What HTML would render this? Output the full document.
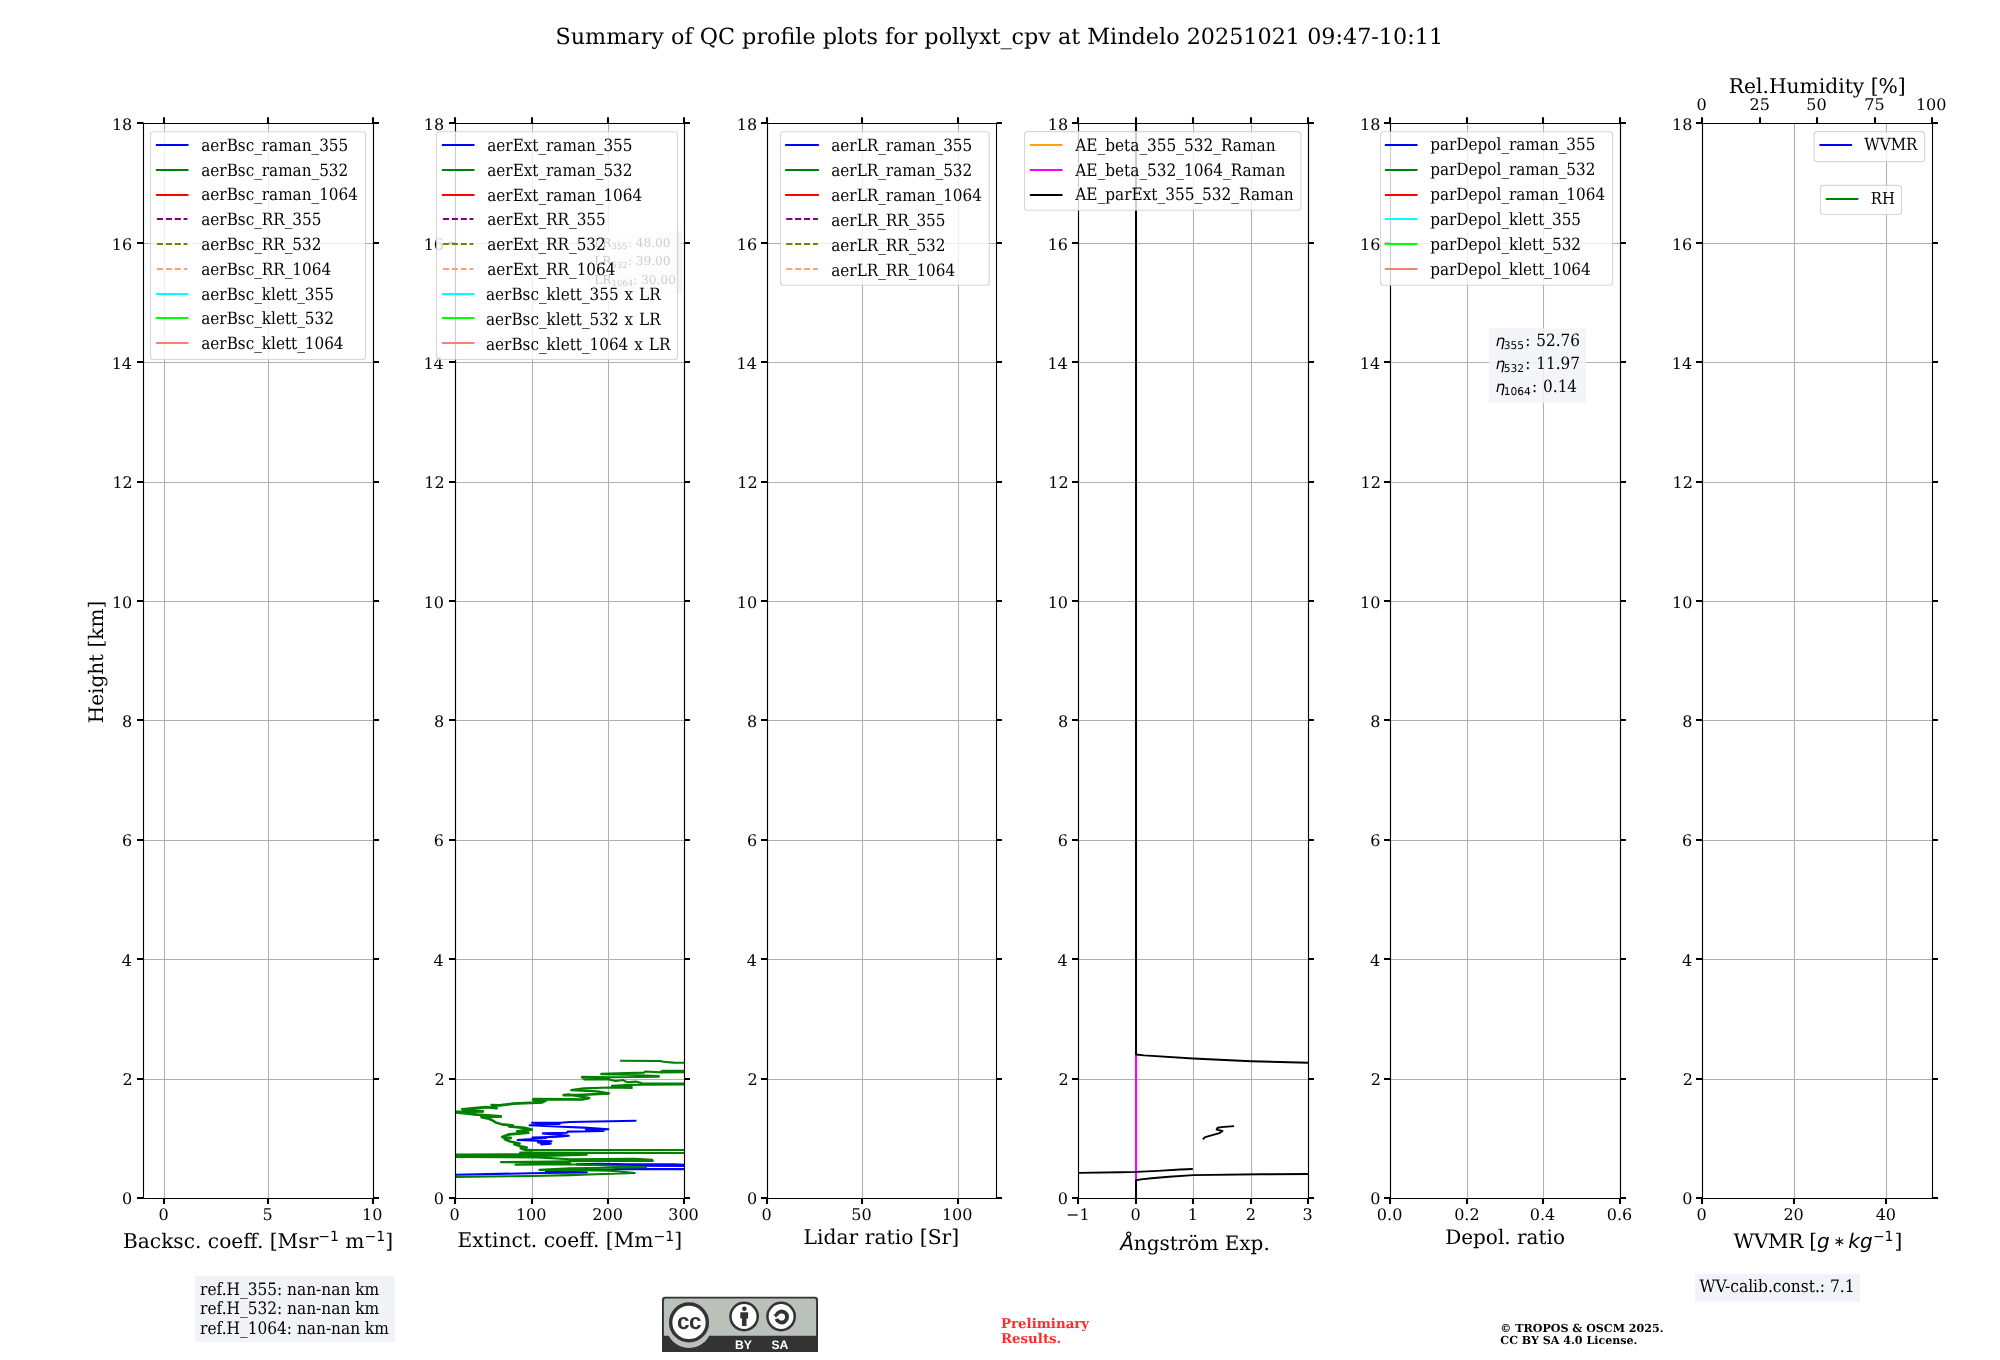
<!DOCTYPE html>
<html lang="en"><head><meta charset="utf-8"><title>QC profile summary</title>
<style>html,body{margin:0;padding:0;background:#fff}svg{display:block;will-change:transform;text-rendering:geometricPrecision}</style></head>
<body>
<svg width="2000" height="1360" viewBox="0 0 2000 1360" font-family="'DejaVu Serif','Liberation Serif',serif" fill="#000">
<rect width="2000" height="1360" fill="#fff"/>
<defs>
<clipPath id="c0"><rect x="143" y="123.15" width="230" height="1075.1"/></clipPath>
<clipPath id="c1"><rect x="455.3" y="123.15" width="229.1" height="1075.1"/></clipPath>
<clipPath id="c2"><rect x="766.8" y="123.15" width="229.2" height="1075.1"/></clipPath>
<clipPath id="c3"><rect x="1078.4" y="123.15" width="229.9" height="1075.1"/></clipPath>
<clipPath id="c4"><rect x="1390.2" y="123.15" width="229.8" height="1075.1"/></clipPath>
<clipPath id="c5"><rect x="1702.2" y="123.15" width="230.1" height="1075.1"/></clipPath>
</defs>
<text x="999.3" y="44.1" font-size="22.29" text-anchor="middle">Summary of QC profile plots for pollyxt_cpv at Mindelo 20251021 09:47-10:11</text>
<g id="ax0">
<path d="M164.5 123.15V1198.25M268.5 123.15V1198.25M373.5 123.15V1198.25M143 1198.5H373M143 1079.5H373M143 959.5H373M143 840.5H373M143 720.5H373M143 601.5H373M143 482.5H373M143 362.5H373M143 243.5H373M143 123.5H373" stroke="#b0b0b0" stroke-width="1.11" fill="none"/>
<path d="M164.0 1198.5v5.5M164.0 123.5v-6.3M268.0 1198.5v5.5M268.0 123.5v-6.3M373.0 1198.5v5.5M373.0 123.5v-6.3M143.5 1198.0h-6.5M373.5 1198.0h5.5M143.5 1079.0h-6.5M373.5 1079.0h5.5M143.5 959.0h-6.5M373.5 959.0h5.5M143.5 840.0h-6.5M373.5 840.0h5.5M143.5 720.0h-6.5M373.5 720.0h5.5M143.5 601.0h-6.5M373.5 601.0h5.5M143.5 482.0h-6.5M373.5 482.0h5.5M143.5 362.0h-6.5M373.5 362.0h5.5M143.5 243.0h-6.5M373.5 243.0h5.5M143.5 123.0h-6.5M373.5 123.0h5.5" stroke="#000" stroke-width="2.08" fill="none"/>
<path d="M143.5 1198.5V123.5H373.5V1198.5Z" stroke="#000" stroke-width="1.11" fill="none" stroke-linejoin="miter"/>
<g font-size="16">
<text x="163.6" y="1219.7" text-anchor="middle">0</text>
<text x="267.54" y="1219.7" text-anchor="middle">5</text>
<text x="372.15" y="1219.7" text-anchor="middle">10</text>
<text x="132.26" y="1204" text-anchor="end">0</text>
<text x="132.77" y="1085" text-anchor="end">2</text>
<text x="132" y="965.6" text-anchor="end">4</text>
<text x="132.21" y="846" text-anchor="end">6</text>
<text x="132.28" y="726.7" text-anchor="end">8</text>
<text x="132.26" y="608" text-anchor="end">10</text>
<text x="132.77" y="488" text-anchor="end">12</text>
<text x="132" y="369" text-anchor="end">14</text>
<text x="132.21" y="249.7" text-anchor="end">16</text>
<text x="132.28" y="130" text-anchor="end">18</text>
</g>
<text x="103.1" y="662" font-size="20" text-anchor="middle" transform="rotate(-90 103.1 662)">Height [km]</text>
<text x="258" y="1247.7" font-size="20.2" text-anchor="middle">Backsc. coeff. [Msr<tspan font-family="'DejaVu Sans','Liberation Sans',sans-serif" font-size="14" dy="-6.5">−1</tspan><tspan dy="6.5"> m</tspan><tspan font-family="'DejaVu Sans','Liberation Sans',sans-serif" font-size="14" dy="-6.5">−1</tspan><tspan dy="6.5">]</tspan></text>
<rect x="150.5" y="131.7" width="215.1" height="227.8" rx="3" ry="3" fill="#fff" fill-opacity="0.8" stroke="#ccc" stroke-opacity="0.8" stroke-width="1.11"/>
<line x1="156.9" y1="145" x2="187.46" y2="145" stroke="#0000ff" stroke-width="2.08" stroke-linecap="square"/>
<text x="201.26" y="150.75" font-size="16.95" font-family="'DejaVu Serif Condensed','DejaVu Serif','Liberation Serif',serif" font-stretch="condensed" word-spacing="1.1">aerBsc_raman_355</text>
<line x1="156.9" y1="170" x2="187.46" y2="170" stroke="#008000" stroke-width="2.08" stroke-linecap="square"/>
<text x="201.26" y="175.57" font-size="16.95" font-family="'DejaVu Serif Condensed','DejaVu Serif','Liberation Serif',serif" font-stretch="condensed" word-spacing="1.1">aerBsc_raman_532</text>
<line x1="156.9" y1="195" x2="187.46" y2="195" stroke="#ff0000" stroke-width="2.08" stroke-linecap="square"/>
<text x="201.26" y="200.39" font-size="16.95" font-family="'DejaVu Serif Condensed','DejaVu Serif','Liberation Serif',serif" font-stretch="condensed" word-spacing="1.1">aerBsc_raman_1064</text>
<line x1="156.9" y1="219" x2="187.46" y2="219" stroke="#800080" stroke-width="2.08" stroke-linecap="butt" stroke-dasharray="6.2 2.7"/>
<text x="201.26" y="225.21" font-size="16.95" font-family="'DejaVu Serif Condensed','DejaVu Serif','Liberation Serif',serif" font-stretch="condensed" word-spacing="1.1">aerBsc_RR_355</text>
<line x1="156.9" y1="244" x2="187.46" y2="244" stroke="#808000" stroke-width="2.08" stroke-linecap="butt" stroke-dasharray="6.2 2.7"/>
<text x="201.26" y="250.03" font-size="16.95" font-family="'DejaVu Serif Condensed','DejaVu Serif','Liberation Serif',serif" font-stretch="condensed" word-spacing="1.1">aerBsc_RR_532</text>
<line x1="156.9" y1="269" x2="187.46" y2="269" stroke="#ffa07a" stroke-width="2.08" stroke-linecap="butt" stroke-dasharray="6.2 2.7"/>
<text x="201.26" y="274.85" font-size="16.95" font-family="'DejaVu Serif Condensed','DejaVu Serif','Liberation Serif',serif" font-stretch="condensed" word-spacing="1.1">aerBsc_RR_1064</text>
<line x1="156.9" y1="294" x2="187.46" y2="294" stroke="#00ffff" stroke-width="2.08" stroke-linecap="square"/>
<text x="201.26" y="299.67" font-size="16.95" font-family="'DejaVu Serif Condensed','DejaVu Serif','Liberation Serif',serif" font-stretch="condensed" word-spacing="1.1">aerBsc_klett_355</text>
<line x1="156.9" y1="318" x2="187.46" y2="318" stroke="#00ff00" stroke-width="2.08" stroke-linecap="square"/>
<text x="201.26" y="324.49" font-size="16.95" font-family="'DejaVu Serif Condensed','DejaVu Serif','Liberation Serif',serif" font-stretch="condensed" word-spacing="1.1">aerBsc_klett_532</text>
<line x1="156.9" y1="343" x2="187.46" y2="343" stroke="#fa8072" stroke-width="2.08" stroke-linecap="square"/>
<text x="201.26" y="349.31" font-size="16.95" font-family="'DejaVu Serif Condensed','DejaVu Serif','Liberation Serif',serif" font-stretch="condensed" word-spacing="1.1">aerBsc_klett_1064</text>
</g>
<g id="ax1">
<path d="M455.5 123.15V1198.25M532.5 123.15V1198.25M608.5 123.15V1198.25M684.5 123.15V1198.25M455.3 1198.5H684.4M455.3 1079.5H684.4M455.3 959.5H684.4M455.3 840.5H684.4M455.3 720.5H684.4M455.3 601.5H684.4M455.3 482.5H684.4M455.3 362.5H684.4M455.3 243.5H684.4M455.3 123.5H684.4" stroke="#b0b0b0" stroke-width="1.11" fill="none"/>
<g clip-path="url(#c1)"><polyline points="440,1175 455.7,1174.7 543,1173 586.8,1172.4 546,1171.6 570,1169.6 609.6,1169.7 618,1169.1 700,1169.1 700,1166.2 630,1165.6 576.9,1164.4 598.8,1163.7 630,1164.3 673.8,1164.3 700,1165.2" fill="none" stroke="#0000ff" stroke-width="2.08" stroke-linejoin="round" stroke-linecap="butt" /></g>
<g clip-path="url(#c1)"><polyline points="540.4,1144.4 550.8,1143.6 538,1142.4 551.6,1141.2 517.6,1140 546,1138 532.4,1137.6 558,1136.8 568.8,1135.8 552.4,1134.4 542.8,1133.4 566.8,1132.8 567.6,1131.6 603.6,1131 586,1129.6 608.4,1129.2 583.6,1127.6 562,1126.8 529.6,1125.2 559.6,1124 532,1122.8 560.4,1122.8 570,1122 636.4,1120.8" fill="none" stroke="#0000ff" stroke-width="2.08" stroke-linejoin="round" stroke-linecap="butt" /></g>
<g clip-path="url(#c1)"><polyline points="440,1177 455.7,1176.9 532.2,1176 570,1175.1 588,1174.5 634.8,1173 609.6,1170.6 570,1170 539.4,1169.9 570,1168.2 646.2,1167.3 600,1165.2 570,1164.2 515.4,1164.7 570,1163.4 501,1162.1 570,1161.3 633.6,1160.7 652.8,1161 652.2,1159.8 635.4,1158.9 570,1159.2 537,1157.4 440,1157 440,1155.9 545,1156 586.8,1154.8 545,1155 440,1154.9 440,1154.6 520.2,1154.2 520.2,1152.6 700,1153 700,1150 532.4,1150 525.2,1149.6 520.4,1148 526.8,1147.2 520.4,1146 514,1144 519.6,1143.2 510,1141.2 504.4,1138.8 510.8,1137.6 502,1136.8 509.2,1134 528.4,1132.4 516.8,1131.2 523.6,1130 532,1129.2 524.4,1127.6 508.8,1126.1 513.2,1125.2 501.6,1124 495.6,1122.2 492,1119.8 487.2,1118 481.2,1116.8 501,1116.1 477,1114.4 455.7,1112 440,1111.8 483,1111.1 462,1109 486,1106.9 496.8,1107.8 491.4,1104.8 499.2,1105.1 513,1103.3 541.8,1102.1 546,1100 535.2,1101.2 532.8,1099.4 534,1098.8 570,1099 582,1099.2 589.2,1097.7 570,1094.4 563.4,1094.9 577.2,1094.7 609,1093.2 597.6,1091.4 571.2,1090.1 583.8,1088.4 609,1087.5 631.8,1087.9 612,1086.9 631.8,1086 612,1085.7 631.2,1084.9 642,1084.8 700,1084.5 700,1083.6 642,1083.3 636,1081.6 627,1082.2 622.8,1080 615.6,1081 609,1079.5 584.1,1079.4 609,1078.2 582,1077.6 582,1076.7 609,1077.3 658.8,1076.7 658.8,1076.1 626.4,1074.7 601.2,1074.3 601.2,1073.8 644,1072.6 645,1071.5 661,1072.4 700,1072.2 661,1071.6 662.4,1070.9 700,1070.6" fill="none" stroke="#008000" stroke-width="2.08" stroke-linejoin="round" stroke-linecap="butt" /></g>
<g clip-path="url(#c1)"><polyline points="700,1062.9 684.6,1062.8 673.2,1062.6 663.6,1061.7 660,1061 620.1,1060.8" fill="none" stroke="#008000" stroke-width="2.08" stroke-linejoin="round" stroke-linecap="butt" /></g>
<g clip-path="url(#c1)"><polyline points="532.7,1150.75 525.5,1150.35 520.7,1148.75 527.1,1147.95 520.7,1146.75 514.3,1144.75 519.9,1143.95 510.3,1141.95 504.7,1139.55 511.1,1138.35 502.3,1137.55 509.5,1134.75 528.7,1133.15 517.1,1131.95 523.9,1130.75 532.3,1129.95 524.7,1128.35 509.1,1126.85 513.5,1125.95 501.9,1124.75 495.9,1122.95 492.3,1120.55 487.5,1118.75 481.5,1117.55 501.3,1116.85 477.3,1115.15 456,1112.75 440.3,1112.55 483.3,1111.85 462.3,1109.75 486.3,1107.65 497.1,1108.55 491.7,1105.55 499.5,1105.85 513.3,1104.05 542.1,1102.85 546.3,1100.75 535.5,1101.95 533.1,1100.15 534.3,1099.55 570.3,1099.75 582.3,1099.95 589.5,1098.45 570.3,1095.15 563.7,1095.65 577.5,1095.45 609.3,1093.95" fill="none" stroke="#008000" stroke-width="1.8" stroke-linejoin="round" stroke-linecap="butt" /></g>
<path d="M455.0 1198.5v5.5M455.0 123.5v-6.3M532.0 1198.5v5.5M532.0 123.5v-6.3M608.0 1198.5v5.5M608.0 123.5v-6.3M684.0 1198.5v5.5M684.0 123.5v-6.3M455.5 1198.0h-6.5M684.5 1198.0h5.5M455.5 1079.0h-6.5M684.5 1079.0h5.5M455.5 959.0h-6.5M684.5 959.0h5.5M455.5 840.0h-6.5M684.5 840.0h5.5M455.5 720.0h-6.5M684.5 720.0h5.5M455.5 601.0h-6.5M684.5 601.0h5.5M455.5 482.0h-6.5M684.5 482.0h5.5M455.5 362.0h-6.5M684.5 362.0h5.5M455.5 243.0h-6.5M684.5 243.0h5.5M455.5 123.0h-6.5M684.5 123.0h5.5" stroke="#000" stroke-width="2.08" fill="none"/>
<path d="M455.5 1198.5V123.5H684.5V1198.5Z" stroke="#000" stroke-width="1.11" fill="none" stroke-linejoin="miter"/>
<g font-size="16">
<text x="454.6" y="1219.7" text-anchor="middle">0</text>
<text x="531.15" y="1219.7" text-anchor="middle">100</text>
<text x="607.59" y="1219.7" text-anchor="middle">200</text>
<text x="683.52" y="1219.7" text-anchor="middle">300</text>
<text x="444.06" y="1204" text-anchor="end">0</text>
<text x="444.57" y="1085" text-anchor="end">2</text>
<text x="443.8" y="965.6" text-anchor="end">4</text>
<text x="444.01" y="846" text-anchor="end">6</text>
<text x="444.08" y="726.7" text-anchor="end">8</text>
<text x="444.06" y="608" text-anchor="end">10</text>
<text x="444.57" y="488" text-anchor="end">12</text>
<text x="443.8" y="369" text-anchor="end">14</text>
<text x="444.01" y="249.7" text-anchor="end">16</text>
<text x="444.08" y="130" text-anchor="end">18</text>
</g>
<text x="569.85" y="1247.2" font-size="20.24" text-anchor="middle">Extinct. coeff. [Mm<tspan font-family="'DejaVu Sans','Liberation Sans',sans-serif" font-size="14" dy="-6.5">−1</tspan><tspan dy="6.5">]</tspan></text>
<rect x="587.5" y="231.2" width="94.3" height="62.6" fill="#f2f3f8"/>
<text x="594.2" y="246.8" font-size="12.2">LR<tspan font-family="'DejaVu Sans','Liberation Sans',sans-serif" font-size="8.5" dy="2.6">355</tspan><tspan dy="-2.6">: 48.00</tspan></text>
<text x="594.2" y="264.9" font-size="12.2">LR<tspan font-family="'DejaVu Sans','Liberation Sans',sans-serif" font-size="8.5" dy="2.6">532</tspan><tspan dy="-2.6">: 39.00</tspan></text>
<text x="594.2" y="283.8" font-size="12.2">LR<tspan font-family="'DejaVu Sans','Liberation Sans',sans-serif" font-size="8.5" dy="2.6">1064</tspan><tspan dy="-2.6">: 30.00</tspan></text>
<rect x="436.5" y="131.7" width="240.9" height="227.8" rx="3" ry="3" fill="#fff" fill-opacity="0.8" stroke="#ccc" stroke-opacity="0.8" stroke-width="1.11"/>
<line x1="442.9" y1="145" x2="473.46" y2="145" stroke="#0000ff" stroke-width="2.08" stroke-linecap="square"/>
<text x="487.26" y="150.75" font-size="16.95" font-family="'DejaVu Serif Condensed','DejaVu Serif','Liberation Serif',serif" font-stretch="condensed" word-spacing="1.1">aerExt_raman_355</text>
<line x1="442.9" y1="170" x2="473.46" y2="170" stroke="#008000" stroke-width="2.08" stroke-linecap="square"/>
<text x="487.26" y="175.65" font-size="16.95" font-family="'DejaVu Serif Condensed','DejaVu Serif','Liberation Serif',serif" font-stretch="condensed" word-spacing="1.1">aerExt_raman_532</text>
<line x1="442.9" y1="195" x2="473.46" y2="195" stroke="#ff0000" stroke-width="2.08" stroke-linecap="square"/>
<text x="487.26" y="200.55" font-size="16.95" font-family="'DejaVu Serif Condensed','DejaVu Serif','Liberation Serif',serif" font-stretch="condensed" word-spacing="1.1">aerExt_raman_1064</text>
<line x1="442.9" y1="219" x2="473.46" y2="219" stroke="#800080" stroke-width="2.08" stroke-linecap="butt" stroke-dasharray="6.2 2.7"/>
<text x="487.26" y="225.45" font-size="16.95" font-family="'DejaVu Serif Condensed','DejaVu Serif','Liberation Serif',serif" font-stretch="condensed" word-spacing="1.1">aerExt_RR_355</text>
<line x1="442.9" y1="244" x2="473.46" y2="244" stroke="#808000" stroke-width="2.08" stroke-linecap="butt" stroke-dasharray="6.2 2.7"/>
<text x="487.26" y="250.35" font-size="16.95" font-family="'DejaVu Serif Condensed','DejaVu Serif','Liberation Serif',serif" font-stretch="condensed" word-spacing="1.1">aerExt_RR_532</text>
<line x1="442.9" y1="269" x2="473.46" y2="269" stroke="#ffa07a" stroke-width="2.08" stroke-linecap="butt" stroke-dasharray="6.2 2.7"/>
<text x="487.26" y="275.25" font-size="16.95" font-family="'DejaVu Serif Condensed','DejaVu Serif','Liberation Serif',serif" font-stretch="condensed" word-spacing="1.1">aerExt_RR_1064</text>
<line x1="442.9" y1="294" x2="473.46" y2="294" stroke="#00ffff" stroke-width="2.08" stroke-linecap="square"/>
<text x="486.01" y="300.15" font-size="16.95" font-family="'DejaVu Serif Condensed','DejaVu Serif','Liberation Serif',serif" font-stretch="condensed" word-spacing="1.1">aerBsc_klett_355 x LR</text>
<line x1="442.9" y1="318" x2="473.46" y2="318" stroke="#00ff00" stroke-width="2.08" stroke-linecap="square"/>
<text x="486.01" y="325.05" font-size="16.95" font-family="'DejaVu Serif Condensed','DejaVu Serif','Liberation Serif',serif" font-stretch="condensed" word-spacing="1.1">aerBsc_klett_532 x LR</text>
<line x1="442.9" y1="343" x2="473.46" y2="343" stroke="#fa8072" stroke-width="2.08" stroke-linecap="square"/>
<text x="486.01" y="349.95" font-size="16.95" font-family="'DejaVu Serif Condensed','DejaVu Serif','Liberation Serif',serif" font-stretch="condensed" word-spacing="1.1">aerBsc_klett_1064 x LR</text>
</g>
<g id="ax2">
<path d="M767.5 123.15V1198.25M862.5 123.15V1198.25M958.5 123.15V1198.25M766.8 1198.5H996M766.8 1079.5H996M766.8 959.5H996M766.8 840.5H996M766.8 720.5H996M766.8 601.5H996M766.8 482.5H996M766.8 362.5H996M766.8 243.5H996M766.8 123.5H996" stroke="#b0b0b0" stroke-width="1.11" fill="none"/>
<path d="M767.0 1198.5v5.5M767.0 123.5v-6.3M862.0 1198.5v5.5M862.0 123.5v-6.3M958.0 1198.5v5.5M958.0 123.5v-6.3M767.5 1198.0h-6.5M996.5 1198.0h5.5M767.5 1079.0h-6.5M996.5 1079.0h5.5M767.5 959.0h-6.5M996.5 959.0h5.5M767.5 840.0h-6.5M996.5 840.0h5.5M767.5 720.0h-6.5M996.5 720.0h5.5M767.5 601.0h-6.5M996.5 601.0h5.5M767.5 482.0h-6.5M996.5 482.0h5.5M767.5 362.0h-6.5M996.5 362.0h5.5M767.5 243.0h-6.5M996.5 243.0h5.5M767.5 123.0h-6.5M996.5 123.0h5.5" stroke="#000" stroke-width="2.08" fill="none"/>
<path d="M767.5 1198.5V123.5H996.5V1198.5Z" stroke="#000" stroke-width="1.11" fill="none" stroke-linejoin="miter"/>
<g font-size="16">
<text x="766.6" y="1219.7" text-anchor="middle">0</text>
<text x="861.45" y="1219.7" text-anchor="middle">50</text>
<text x="957.15" y="1219.7" text-anchor="middle">100</text>
<text x="757.16" y="1204" text-anchor="end">0</text>
<text x="757.67" y="1085" text-anchor="end">2</text>
<text x="756.9" y="965.6" text-anchor="end">4</text>
<text x="757.11" y="846" text-anchor="end">6</text>
<text x="757.18" y="726.7" text-anchor="end">8</text>
<text x="757.16" y="608" text-anchor="end">10</text>
<text x="757.67" y="488" text-anchor="end">12</text>
<text x="756.9" y="369" text-anchor="end">14</text>
<text x="757.11" y="249.7" text-anchor="end">16</text>
<text x="757.18" y="130" text-anchor="end">18</text>
</g>
<text x="881.4" y="1243.8" font-size="20.3" text-anchor="middle">Lidar ratio [Sr]</text>
<rect x="780.5" y="131.7" width="208.8" height="153.6" rx="3" ry="3" fill="#fff" fill-opacity="0.8" stroke="#ccc" stroke-opacity="0.8" stroke-width="1.11"/>
<line x1="786.2" y1="145" x2="817.9" y2="145" stroke="#0000ff" stroke-width="2.08" stroke-linecap="square"/>
<text x="831.26" y="150.75" font-size="16.95" font-family="'DejaVu Serif Condensed','DejaVu Serif','Liberation Serif',serif" font-stretch="condensed" word-spacing="1.1">aerLR_raman_355</text>
<line x1="786.2" y1="170" x2="817.9" y2="170" stroke="#008000" stroke-width="2.08" stroke-linecap="square"/>
<text x="831.26" y="175.71" font-size="16.95" font-family="'DejaVu Serif Condensed','DejaVu Serif','Liberation Serif',serif" font-stretch="condensed" word-spacing="1.1">aerLR_raman_532</text>
<line x1="786.2" y1="195" x2="817.9" y2="195" stroke="#ff0000" stroke-width="2.08" stroke-linecap="square"/>
<text x="831.26" y="200.67" font-size="16.95" font-family="'DejaVu Serif Condensed','DejaVu Serif','Liberation Serif',serif" font-stretch="condensed" word-spacing="1.1">aerLR_raman_1064</text>
<line x1="786.2" y1="219" x2="817.9" y2="219" stroke="#800080" stroke-width="2.08" stroke-linecap="butt" stroke-dasharray="6.2 2.7"/>
<text x="831.26" y="225.63" font-size="16.95" font-family="'DejaVu Serif Condensed','DejaVu Serif','Liberation Serif',serif" font-stretch="condensed" word-spacing="1.1">aerLR_RR_355</text>
<line x1="786.2" y1="244" x2="817.9" y2="244" stroke="#808000" stroke-width="2.08" stroke-linecap="butt" stroke-dasharray="6.2 2.7"/>
<text x="831.26" y="250.59" font-size="16.95" font-family="'DejaVu Serif Condensed','DejaVu Serif','Liberation Serif',serif" font-stretch="condensed" word-spacing="1.1">aerLR_RR_532</text>
<line x1="786.2" y1="269" x2="817.9" y2="269" stroke="#ffa07a" stroke-width="2.08" stroke-linecap="butt" stroke-dasharray="6.2 2.7"/>
<text x="831.26" y="275.55" font-size="16.95" font-family="'DejaVu Serif Condensed','DejaVu Serif','Liberation Serif',serif" font-stretch="condensed" word-spacing="1.1">aerLR_RR_1064</text>
</g>
<g id="ax3">
<path d="M1078.5 123.15V1198.25M1136.5 123.15V1198.25M1193.5 123.15V1198.25M1251.5 123.15V1198.25M1308.5 123.15V1198.25M1078.4 1198.5H1308.3M1078.4 1079.5H1308.3M1078.4 959.5H1308.3M1078.4 840.5H1308.3M1078.4 720.5H1308.3M1078.4 601.5H1308.3M1078.4 482.5H1308.3M1078.4 362.5H1308.3M1078.4 243.5H1308.3M1078.4 123.5H1308.3" stroke="#b0b0b0" stroke-width="1.11" fill="none"/>
<g clip-path="url(#c3)"><polyline points="1136,1198.25 1136,123.15" fill="none" stroke="#ff00ff" stroke-width="2.08" stroke-linejoin="round" stroke-linecap="butt" /></g>
<g clip-path="url(#c3)"><polyline points="1136,123.15 1136,1054.5 1144.1,1055.4 1193.1,1058.5 1251,1061.2 1308.2,1062.7 1330,1063.2" fill="none" stroke="#000" stroke-width="1.9" stroke-linejoin="round" stroke-linecap="butt" /></g>
<g clip-path="url(#c3)"><polyline points="1330,1173.9 1308.2,1174 1260,1174.3 1193.3,1175.1 1169,1176.8 1151.5,1178.2 1141,1179.4 1136,1180.3 1136,1198.25" fill="none" stroke="#000" stroke-width="1.9" stroke-linejoin="round" stroke-linecap="butt" /></g>
<g clip-path="url(#c3)"><polyline points="1060,1173.2 1078.6,1172.9 1120,1172.2 1136,1171.9 1157.8,1170.9 1180.2,1169.5 1192.8,1169" fill="none" stroke="#000" stroke-width="1.9" stroke-linejoin="round" stroke-linecap="butt" /></g>
<g clip-path="url(#c3)"><polyline points="1202.9,1139.3 1204.7,1137.3 1209.6,1135.9 1219.4,1133.1 1222.5,1131 1216.6,1129.6 1217.6,1127.8 1221.5,1127.1 1234.1,1126.1" fill="none" stroke="#000" stroke-width="1.9" stroke-linejoin="round" stroke-linecap="butt" /></g>
<path d="M1078.0 1198.5v5.5M1078.0 123.5v-6.3M1136.0 1198.5v5.5M1136.0 123.5v-6.3M1193.0 1198.5v5.5M1193.0 123.5v-6.3M1251.0 1198.5v5.5M1251.0 123.5v-6.3M1308.0 1198.5v5.5M1308.0 123.5v-6.3M1078.5 1198.0h-6.5M1308.5 1198.0h5.5M1078.5 1079.0h-6.5M1308.5 1079.0h5.5M1078.5 959.0h-6.5M1308.5 959.0h5.5M1078.5 840.0h-6.5M1308.5 840.0h5.5M1078.5 720.0h-6.5M1308.5 720.0h5.5M1078.5 601.0h-6.5M1308.5 601.0h5.5M1078.5 482.0h-6.5M1308.5 482.0h5.5M1078.5 362.0h-6.5M1308.5 362.0h5.5M1078.5 243.0h-6.5M1308.5 243.0h5.5M1078.5 123.0h-6.5M1308.5 123.0h5.5" stroke="#000" stroke-width="2.08" fill="none"/>
<path d="M1078.5 1198.5V123.5H1308.5V1198.5Z" stroke="#000" stroke-width="1.11" fill="none" stroke-linejoin="miter"/>
<g font-size="16">
<text x="1077.89" y="1219.7" text-anchor="middle">−1</text>
<text x="1135.6" y="1219.7" text-anchor="middle">0</text>
<text x="1192.76" y="1219.7" text-anchor="middle">1</text>
<text x="1250.84" y="1219.7" text-anchor="middle">2</text>
<text x="1307.58" y="1219.7" text-anchor="middle">3</text>
<text x="1068.06" y="1204" text-anchor="end">0</text>
<text x="1068.57" y="1085" text-anchor="end">2</text>
<text x="1067.8" y="965.6" text-anchor="end">4</text>
<text x="1068.01" y="846" text-anchor="end">6</text>
<text x="1068.08" y="726.7" text-anchor="end">8</text>
<text x="1068.06" y="608" text-anchor="end">10</text>
<text x="1068.57" y="488" text-anchor="end">12</text>
<text x="1067.8" y="369" text-anchor="end">14</text>
<text x="1068.01" y="249.7" text-anchor="end">16</text>
<text x="1068.08" y="130" text-anchor="end">18</text>
</g>
<text x="1194.95" y="1249.7" font-size="20" text-anchor="middle"><tspan font-family="'DejaVu Sans','Liberation Sans',sans-serif" font-style="italic">Å</tspan>ngström Exp.</text>
<rect x="1024.5" y="131.6" width="276.5" height="78.6" rx="3" ry="3" fill="#fff" fill-opacity="0.8" stroke="#ccc" stroke-opacity="0.8" stroke-width="1.11"/>
<line x1="1030.9" y1="145" x2="1061.46" y2="145" stroke="#ffa500" stroke-width="2.08" stroke-linecap="square"/>
<text x="1075.26" y="150.75" font-size="17.06" font-family="'DejaVu Serif Condensed','DejaVu Serif','Liberation Serif',serif" font-stretch="condensed" word-spacing="1.1">AE_beta_355_532_Raman</text>
<line x1="1030.9" y1="170" x2="1061.46" y2="170" stroke="#ff00ff" stroke-width="2.08" stroke-linecap="square"/>
<text x="1075.26" y="175.57" font-size="17.06" font-family="'DejaVu Serif Condensed','DejaVu Serif','Liberation Serif',serif" font-stretch="condensed" word-spacing="1.1">AE_beta_532_1064_Raman</text>
<line x1="1030.9" y1="195" x2="1061.46" y2="195" stroke="#000" stroke-width="2.08" stroke-linecap="square"/>
<text x="1075.26" y="200.39" font-size="17.06" font-family="'DejaVu Serif Condensed','DejaVu Serif','Liberation Serif',serif" font-stretch="condensed" word-spacing="1.1">AE_parExt_355_532_Raman</text>
</g>
<g id="ax4">
<path d="M1390.5 123.15V1198.25M1467.5 123.15V1198.25M1543.5 123.15V1198.25M1620.5 123.15V1198.25M1390.2 1198.5H1620M1390.2 1079.5H1620M1390.2 959.5H1620M1390.2 840.5H1620M1390.2 720.5H1620M1390.2 601.5H1620M1390.2 482.5H1620M1390.2 362.5H1620M1390.2 243.5H1620M1390.2 123.5H1620" stroke="#b0b0b0" stroke-width="1.11" fill="none"/>
<path d="M1390.0 1198.5v5.5M1390.0 123.5v-6.3M1467.0 1198.5v5.5M1467.0 123.5v-6.3M1543.0 1198.5v5.5M1543.0 123.5v-6.3M1620.0 1198.5v5.5M1620.0 123.5v-6.3M1390.5 1198.0h-6.5M1620.5 1198.0h5.5M1390.5 1079.0h-6.5M1620.5 1079.0h5.5M1390.5 959.0h-6.5M1620.5 959.0h5.5M1390.5 840.0h-6.5M1620.5 840.0h5.5M1390.5 720.0h-6.5M1620.5 720.0h5.5M1390.5 601.0h-6.5M1620.5 601.0h5.5M1390.5 482.0h-6.5M1620.5 482.0h5.5M1390.5 362.0h-6.5M1620.5 362.0h5.5M1390.5 243.0h-6.5M1620.5 243.0h5.5M1390.5 123.0h-6.5M1620.5 123.0h5.5" stroke="#000" stroke-width="2.08" fill="none"/>
<path d="M1390.5 1198.5V123.5H1620.5V1198.5Z" stroke="#000" stroke-width="1.11" fill="none" stroke-linejoin="miter"/>
<g font-size="16">
<text x="1389.6" y="1219.7" text-anchor="middle">0.0</text>
<text x="1466.86" y="1219.7" text-anchor="middle">0.2</text>
<text x="1542.48" y="1219.7" text-anchor="middle">0.4</text>
<text x="1619.58" y="1219.7" text-anchor="middle">0.6</text>
<text x="1380.46" y="1204" text-anchor="end">0</text>
<text x="1380.97" y="1085" text-anchor="end">2</text>
<text x="1380.2" y="965.6" text-anchor="end">4</text>
<text x="1380.41" y="846" text-anchor="end">6</text>
<text x="1380.48" y="726.7" text-anchor="end">8</text>
<text x="1380.46" y="608" text-anchor="end">10</text>
<text x="1380.97" y="488" text-anchor="end">12</text>
<text x="1380.2" y="369" text-anchor="end">14</text>
<text x="1380.41" y="249.7" text-anchor="end">16</text>
<text x="1380.48" y="130" text-anchor="end">18</text>
</g>
<text x="1505.1" y="1243.6" font-size="20" text-anchor="middle">Depol. ratio</text>
<rect x="1489" y="328.2" width="97.1" height="74.7" fill="#f2f3f8" fill-opacity="0.85"/>
<text x="1495.6" y="345.6" font-size="15.28"><tspan font-family="'DejaVu Sans','Liberation Sans',sans-serif" font-style="italic">η</tspan><tspan font-family="'DejaVu Sans','Liberation Sans',sans-serif" font-size="10.7" dy="3.2" dx="-1.6">355</tspan><tspan dy="-3.2" dx="1.15" word-spacing="1.1" font-family="'DejaVu Serif Condensed','DejaVu Serif','Liberation Serif',serif" font-stretch="condensed" font-size="16.95">: 52.76</tspan></text>
<text x="1495.6" y="369.2" font-size="15.28"><tspan font-family="'DejaVu Sans','Liberation Sans',sans-serif" font-style="italic">η</tspan><tspan font-family="'DejaVu Sans','Liberation Sans',sans-serif" font-size="10.7" dy="3.2" dx="-1.6">532</tspan><tspan dy="-3.2" dx="1.15" word-spacing="1.1" font-family="'DejaVu Serif Condensed','DejaVu Serif','Liberation Serif',serif" font-stretch="condensed" font-size="16.95">: 11.97</tspan></text>
<text x="1495.6" y="392.1" font-size="15.28"><tspan font-family="'DejaVu Sans','Liberation Sans',sans-serif" font-style="italic">η</tspan><tspan font-family="'DejaVu Sans','Liberation Sans',sans-serif" font-size="10.7" dy="3.2" dx="-1.6">1064</tspan><tspan dy="-3.2" dx="1.15" word-spacing="1.1" font-family="'DejaVu Serif Condensed','DejaVu Serif','Liberation Serif',serif" font-stretch="condensed" font-size="16.95">: 0.14</tspan></text>
<rect x="1380.5" y="131.7" width="232.1" height="153.6" rx="3" ry="3" fill="#fff" fill-opacity="0.8" stroke="#ccc" stroke-opacity="0.8" stroke-width="1.11"/>
<line x1="1385.9" y1="145" x2="1416.46" y2="145" stroke="#0000ff" stroke-width="2.08" stroke-linecap="square"/>
<text x="1430.26" y="150.15" font-size="16.95" font-family="'DejaVu Serif Condensed','DejaVu Serif','Liberation Serif',serif" font-stretch="condensed" word-spacing="1.1">parDepol_raman_355</text>
<line x1="1385.9" y1="170" x2="1416.46" y2="170" stroke="#008000" stroke-width="2.08" stroke-linecap="square"/>
<text x="1430.26" y="175.11" font-size="16.95" font-family="'DejaVu Serif Condensed','DejaVu Serif','Liberation Serif',serif" font-stretch="condensed" word-spacing="1.1">parDepol_raman_532</text>
<line x1="1385.9" y1="195" x2="1416.46" y2="195" stroke="#ff0000" stroke-width="2.08" stroke-linecap="square"/>
<text x="1430.26" y="200.07" font-size="16.95" font-family="'DejaVu Serif Condensed','DejaVu Serif','Liberation Serif',serif" font-stretch="condensed" word-spacing="1.1">parDepol_raman_1064</text>
<line x1="1385.9" y1="219" x2="1416.46" y2="219" stroke="#00ffff" stroke-width="2.08" stroke-linecap="square"/>
<text x="1430.26" y="225.03" font-size="16.95" font-family="'DejaVu Serif Condensed','DejaVu Serif','Liberation Serif',serif" font-stretch="condensed" word-spacing="1.1">parDepol_klett_355</text>
<line x1="1385.9" y1="244" x2="1416.46" y2="244" stroke="#00ff00" stroke-width="2.08" stroke-linecap="square"/>
<text x="1430.26" y="249.99" font-size="16.95" font-family="'DejaVu Serif Condensed','DejaVu Serif','Liberation Serif',serif" font-stretch="condensed" word-spacing="1.1">parDepol_klett_532</text>
<line x1="1385.9" y1="269" x2="1416.46" y2="269" stroke="#fa8072" stroke-width="2.08" stroke-linecap="square"/>
<text x="1430.26" y="274.95" font-size="16.95" font-family="'DejaVu Serif Condensed','DejaVu Serif','Liberation Serif',serif" font-stretch="condensed" word-spacing="1.1">parDepol_klett_1064</text>
</g>
<g id="ax5">
<path d="M1702.5 123.15V1198.25M1794.5 123.15V1198.25M1886.5 123.15V1198.25M1702.2 1198.5H1932.3M1702.2 1079.5H1932.3M1702.2 959.5H1932.3M1702.2 840.5H1932.3M1702.2 720.5H1932.3M1702.2 601.5H1932.3M1702.2 482.5H1932.3M1702.2 362.5H1932.3M1702.2 243.5H1932.3M1702.2 123.5H1932.3" stroke="#b0b0b0" stroke-width="1.11" fill="none"/>
<path d="M1702.0 1198.5v5.5M1794.0 1198.5v5.5M1886.0 1198.5v5.5M1702.0 123.5v-6.3M1760.0 123.5v-6.3M1817.0 123.5v-6.3M1875.0 123.5v-6.3M1932.0 123.5v-6.3M1702.5 1198.0h-6.5M1932.5 1198.0h5.5M1702.5 1079.0h-6.5M1932.5 1079.0h5.5M1702.5 959.0h-6.5M1932.5 959.0h5.5M1702.5 840.0h-6.5M1932.5 840.0h5.5M1702.5 720.0h-6.5M1932.5 720.0h5.5M1702.5 601.0h-6.5M1932.5 601.0h5.5M1702.5 482.0h-6.5M1932.5 482.0h5.5M1702.5 362.0h-6.5M1932.5 362.0h5.5M1702.5 243.0h-6.5M1932.5 243.0h5.5M1702.5 123.0h-6.5M1932.5 123.0h5.5" stroke="#000" stroke-width="2.08" fill="none"/>
<path d="M1702.5 1198.5V123.5H1932.5V1198.5Z" stroke="#000" stroke-width="1.11" fill="none" stroke-linejoin="miter"/>
<g font-size="16">
<text x="1701.6" y="1219.7" text-anchor="middle">0</text>
<text x="1793.59" y="1219.7" text-anchor="middle">20</text>
<text x="1885.88" y="1219.7" text-anchor="middle">40</text>
<text x="1692.36" y="1204" text-anchor="end">0</text>
<text x="1692.87" y="1085" text-anchor="end">2</text>
<text x="1692.1" y="965.6" text-anchor="end">4</text>
<text x="1692.31" y="846" text-anchor="end">6</text>
<text x="1692.38" y="726.7" text-anchor="end">8</text>
<text x="1692.36" y="608" text-anchor="end">10</text>
<text x="1692.87" y="488" text-anchor="end">12</text>
<text x="1692.1" y="369" text-anchor="end">14</text>
<text x="1692.31" y="249.7" text-anchor="end">16</text>
<text x="1692.38" y="130" text-anchor="end">18</text>
<text x="1701.6" y="109.8" text-anchor="middle">0</text>
<text x="1759.67" y="109.8" text-anchor="middle">25</text>
<text x="1816.45" y="109.8" text-anchor="middle">50</text>
<text x="1874.54" y="109.8" text-anchor="middle">75</text>
<text x="1931.15" y="109.8" text-anchor="middle">100</text>
</g>
<text y="1247.7" font-size="20"><tspan x="1733.6" letter-spacing="-0.25">WVMR [</tspan><tspan x="1816.9" font-family="'DejaVu Sans','Liberation Sans',sans-serif" font-style="italic">g</tspan><tspan x="1839.3" dy="-2.2" text-anchor="middle" font-family="'DejaVu Sans','Liberation Sans',sans-serif" font-size="14">∗</tspan><tspan x="1848.3" dy="2.2" font-family="'DejaVu Sans','Liberation Sans',sans-serif" font-style="italic">kg</tspan><tspan x="1872.9" dy="-6.5" font-family="'DejaVu Sans','Liberation Sans',sans-serif" font-size="14">−1</tspan><tspan x="1894.4" dy="6.5">]</tspan></text>
<text x="1817.25" y="93" font-size="20.25" text-anchor="middle">Rel.Humidity [%]</text>
<rect x="1814.1" y="131.6" width="110.6" height="30" rx="3" ry="3" fill="#fff" fill-opacity="0.8" stroke="#ccc" stroke-opacity="0.8" stroke-width="1.11"/>
<line x1="1820.5" y1="145" x2="1851.06" y2="145" stroke="#0000ff" stroke-width="2.08" stroke-linecap="square"/>
<text x="1864.36" y="149.7" font-size="16.7" font-family="'DejaVu Serif Condensed','DejaVu Serif','Liberation Serif',serif" font-stretch="condensed" word-spacing="1.1">WVMR</text>
<rect x="1820.4" y="185.4" width="81.1" height="29.1" rx="3" ry="3" fill="#fff" fill-opacity="0.8" stroke="#ccc" stroke-opacity="0.8" stroke-width="1.11"/>
<line x1="1826.8" y1="199" x2="1857.36" y2="199" stroke="#008000" stroke-width="2.08" stroke-linecap="square"/>
<text x="1870.86" y="203.6" font-size="16.5" font-family="'DejaVu Serif Condensed','DejaVu Serif','Liberation Serif',serif" font-stretch="condensed" word-spacing="1.1">RH</text>
</g>
<rect x="195" y="1276" width="199.8" height="65.8" fill="#f2f3f8"/>
<text x="200.1" y="1294.8" font-size="17.12" font-family="'DejaVu Serif Condensed','DejaVu Serif','Liberation Serif',serif" font-stretch="condensed">ref.H_355: nan-nan km</text>
<text x="200.1" y="1313.8" font-size="17.12" font-family="'DejaVu Serif Condensed','DejaVu Serif','Liberation Serif',serif" font-stretch="condensed">ref.H_532: nan-nan km</text>
<text x="200.1" y="1333.8" font-size="17.12" font-family="'DejaVu Serif Condensed','DejaVu Serif','Liberation Serif',serif" font-stretch="condensed">ref.H_1064: nan-nan km</text>
<rect x="1694.9" y="1274.1" width="165.1" height="27.6" fill="#f2f3f8"/>
<text x="1699.6" y="1291.5" font-size="17.2" font-family="'DejaVu Serif Condensed','DejaVu Serif','Liberation Serif',serif" font-stretch="condensed">WV-calib.const.: 7.1</text>
<text x="1001" y="1327.9" font-size="13.37" font-weight="bold" fill="#ff2a2a">Preliminary</text>
<text x="1001" y="1342.9" font-size="13.37" font-weight="bold" fill="#ff2a2a">Results.</text>
<text x="1500.3" y="1331.7" font-size="11.1" font-weight="bold">© TROPOS &amp; OSCM 2025.</text>
<text x="1500.3" y="1343.5" font-size="11.1" font-weight="bold">CC BY SA 4.0 License.</text>
<g id="ccbadge">
<defs><clipPath id="cb"><rect x="663.9" y="1330" width="152.2" height="22"/></clipPath></defs>
<path d="M662 1352V1299.8a3 3 0 0 1 3-3H815a3 3 0 0 1 3 3V1352Z" fill="#333333"/>
<path d="M663.9 1335.8V1300.6a2 2 0 0 1 2-2H814.1a2 2 0 0 1 2 2V1335.8Z" fill="#bac1bb"/>
<g clip-path="url(#cb)"><circle cx="689.0" cy="1325.0" r="22.95" fill="#bac1bb"/></g>
<circle cx="689.0" cy="1322.4" r="18.35" fill="#fff" stroke="#333333" stroke-width="3.4"/>
<text x="689.0" y="1328.6" font-family="'Liberation Sans','DejaVu Sans',sans-serif" font-weight="bold" font-size="22.5" text-anchor="middle" fill="#333333" letter-spacing="-0.6">cc</text>
<circle cx="744.1" cy="1316.5" r="13.65" fill="#fff" stroke="#333333" stroke-width="2.5"/>
<circle cx="744.35" cy="1308.7" r="2.3" fill="#333333"/>
<path d="M740.3 1312.3h7.8v6.3h-1.6v7.5h-4.5v-7.5h-1.7Z" fill="#333333"/>
<circle cx="781.1" cy="1316.5" r="13.65" fill="#fff" stroke="#333333" stroke-width="2.5"/>
<path d="M776.43 1315.12A5.5 5.5 0 1 1 776.43 1318.88" fill="none" stroke="#333333" stroke-width="3.8"/>
<path d="M773.4 1314.3h5.2l-2.6 3.4Z" fill="#333333"/>
<g font-family="'Liberation Sans','DejaVu Sans',sans-serif" font-weight="bold" font-size="12.2" fill="#fff" text-anchor="middle"><text x="743.4" y="1348.8">BY</text><text x="779.9" y="1348.8">SA</text></g>
</g>
</svg>
</body></html>
